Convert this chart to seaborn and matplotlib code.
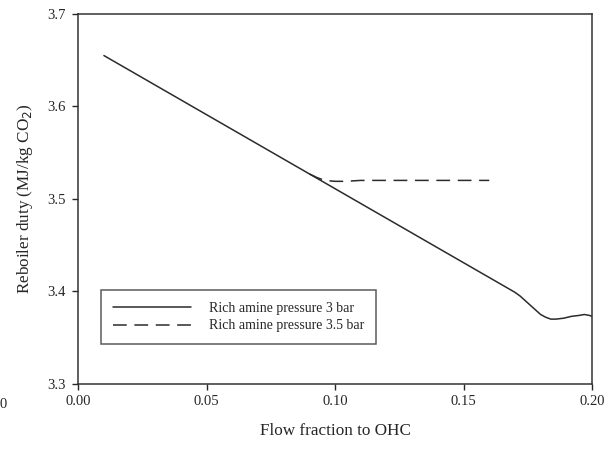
import pandas as pd
import matplotlib
matplotlib.use('Agg')
import matplotlib.pyplot as plt
import seaborn as sns

# datos
flow_3bar = [0.010, 0.030, 0.050, 0.070, 0.090, 0.100, 0.120, 0.140, 0.160, 0.170,
             0.172, 0.174, 0.176, 0.178, 0.180, 0.182, 0.184, 0.186, 0.189,
             0.192, 0.195, 0.197, 0.199, 0.200]
duty_3bar = [3.655, 3.623, 3.591, 3.559, 3.527, 3.511, 3.479, 3.447, 3.415, 3.399,
             3.395, 3.390, 3.385, 3.380, 3.375, 3.372, 3.370, 3.370, 3.371,
             3.373, 3.374, 3.375, 3.374, 3.373]

flow_35bar = [0.090, 0.093, 0.096, 0.100, 0.104, 0.110, 0.130, 0.160]
duty_35bar = [3.527, 3.523, 3.520, 3.519, 3.519, 3.520, 3.520, 3.520]

label_3bar = 'Rich amine pressure 3 bar'
label_35bar = 'Rich amine pressure 3.5 bar'

sns.set_style('white')
plt.rcParams['font.family'] = ['Liberation Serif', 'DejaVu Serif']

fig, ax = plt.subplots(figsize=(6.16, 4.5), dpi=100)

sns.lineplot(x=flow_3bar, y=duty_3bar, ax=ax, color='#2b2b2b', lw=1.1,
             label=label_3bar, sort=False)
sns.lineplot(x=flow_35bar, y=duty_35bar, ax=ax, color='#2b2b2b', lw=1.1,
             label=label_35bar, sort=False)
ax.lines[1].set_dashes((9, 5))

ax.set_xlim(0, 0.20)
ax.set_ylim(3.3, 3.7)
ax.set_xticks([0.00, 0.05, 0.10, 0.15, 0.20])
ax.set_xticklabels(['0.00', '0.05', '0.10', '0.15', '0.20'])
ax.set_yticks([3.3, 3.4, 3.5, 3.6, 3.7])
ax.tick_params(axis='both', direction='out', length=4, width=1, labelsize=10.5,
               bottom=True, left=True, top=False, right=False)
ax.tick_params(axis='x', pad=4)
ax.tick_params(axis='y', pad=5)
for s in ax.spines.values():
    s.set_color('#333333')
    s.set_linewidth(1.1)

ax.set_xlabel('Flow fraction to OHC', fontsize=12.3, labelpad=11)
ax.set_ylabel('Reboiler duty (MJ/kg CO$_2$)', fontsize=12.3, labelpad=9)

leg = ax.legend(loc='lower left', bbox_to_anchor=(0.045, 0.107), borderaxespad=0,
                frameon=True, fancybox=False, handlelength=5.6, handletextpad=1.3,
                fontsize=10, borderpad=0.85, labelspacing=0.3)
leg.get_frame().set_edgecolor('#333333')
leg.get_frame().set_linewidth(1.1)

# cero suelto en el borde de la imagen original
fig.text(0.0, 0.1, '0', fontsize=10.5, ha='left', va='center')

plt.subplots_adjust(left=0.127, right=0.961, top=0.969, bottom=0.147)
plt.savefig('out.png', dpi=100)
